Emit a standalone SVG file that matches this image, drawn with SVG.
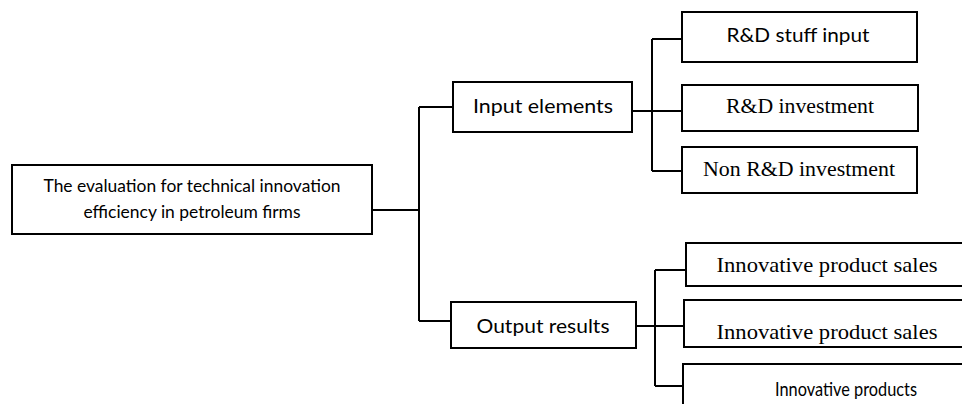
<svg xmlns="http://www.w3.org/2000/svg" width="962" height="404" viewBox="0 0 962 404">
<style>
.box{fill:#fff;stroke:#000;stroke-width:2}
.ln{fill:none;stroke:#000;stroke-width:2}
.sans{font-family:Lato,"Open Sans","Liberation Sans",sans-serif;fill:#000;text-anchor:middle}
.serif{font-family:"Liberation Serif","Times New Roman",serif;fill:#000;text-anchor:middle;font-size:22px}
</style>
<rect width="962" height="404" fill="#fff"/>
<g id="connectors">
<path class="ln" d="M372,210 H419 M419,107 V321 M419,107 H453 M419,321 H451"/>
<path class="ln" d="M632,111 H682 M652,39 V171 M652,39 H682 M652,171 H682"/>
<path class="ln" d="M636,326 H684 M655,270 V386 M655,270 H686 M655,386 H683"/>
</g>
<g id="root">
<rect class="box" x="12" y="165" width="360" height="69"/>
<text class="sans" x="192" y="192" font-size="17" textLength="297" lengthAdjust="spacingAndGlyphs">The evaluation for technical innovation</text>
<text class="sans" x="192" y="218" font-size="17" textLength="217" lengthAdjust="spacingAndGlyphs">efficiency in petroleum firms</text>
</g>
<g id="input">
<rect class="box" x="453" y="82" width="179" height="50"/>
<text class="sans" x="543" y="113" font-size="20" textLength="140" lengthAdjust="spacingAndGlyphs">Input elements</text>
</g>
<g id="output">
<rect class="box" x="451" y="302" width="185" height="46"/>
<text class="sans" x="543" y="333" font-size="20" textLength="133" lengthAdjust="spacingAndGlyphs">Output results</text>
</g>
<g id="rd-stuff">
<rect class="box" x="682" y="12" width="235" height="50"/>
<text class="sans" x="798" y="42" font-size="20" textLength="143" lengthAdjust="spacingAndGlyphs">R&amp;D stuff input</text>
</g>
<g id="rd-investment">
<rect class="box" x="682" y="85" width="236" height="46"/>
<text class="serif" x="800" y="113" textLength="148" lengthAdjust="spacingAndGlyphs">R&amp;D investment</text>
</g>
<g id="non-rd-investment">
<rect class="box" x="682" y="147" width="235" height="46"/>
<text class="serif" x="799" y="176" textLength="192" lengthAdjust="spacingAndGlyphs">Non R&amp;D investment</text>
</g>
<g id="sales1">
<rect class="box" x="686" y="243" width="300" height="43"/>
<text class="serif" x="827" y="272" textLength="221" lengthAdjust="spacingAndGlyphs">Innovative product sales</text>
</g>
<g id="sales2">
<rect class="box" x="684" y="300" width="300" height="47"/>
<text class="serif" x="827" y="339" textLength="221" lengthAdjust="spacingAndGlyphs">Innovative product sales</text>
</g>
<g id="products">
<rect class="box" x="683" y="364" width="300" height="60"/>
<text class="sans" x="846" y="396" font-size="19" textLength="142" lengthAdjust="spacingAndGlyphs">Innovative products</text>
</g>
</svg>
